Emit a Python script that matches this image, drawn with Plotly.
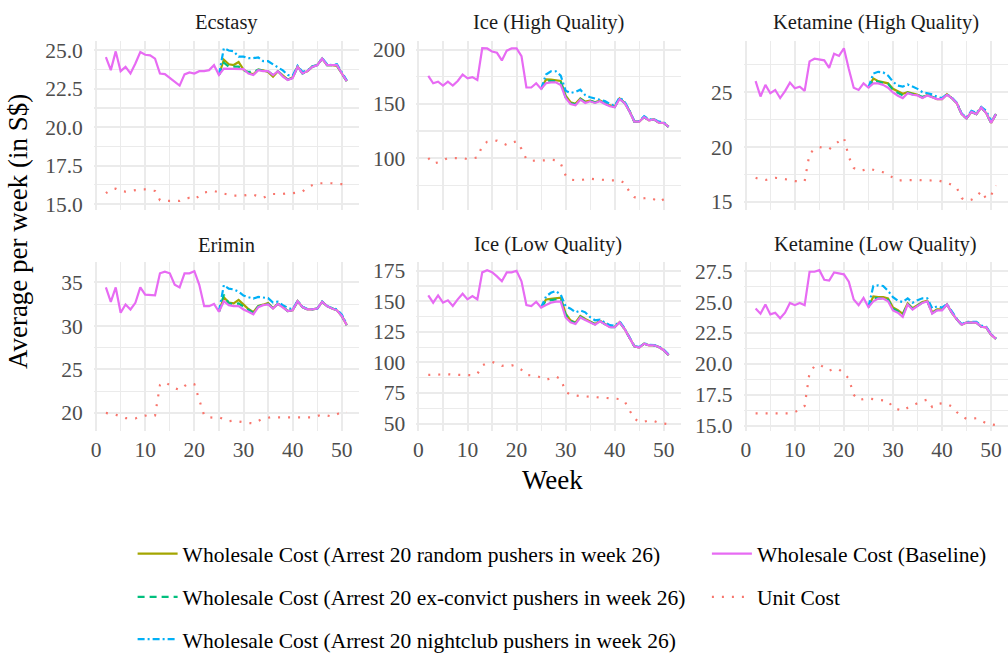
import plotly.graph_objects as go

FONT = "Liberation Serif, Times New Roman, serif"

weeks = list(range(2, 52))
scenario_weeks = list(range(25, 52))

panel_titles = ["Ecstasy", "Ice (High Quality)", "Ketamine (High Quality)",
                "Erimin", "Ice (Low Quality)", "Ketamine (Low Quality)"]

series_names = [
    "Wholesale Cost (Arrest 20 random pushers in week 26)",
    "Wholesale Cost (Arrest 20 ex-convict pushers in week 26)",
    "Wholesale Cost (Arrest 20 nightclub pushers in week 26)",
    "Wholesale Cost (Baseline)",
    "Unit Cost",
]

ecstasy_baseline = [24.57, 23.72, 24.94, 23.65, 23.93, 23.50, 24.15, 24.90, 24.72, 24.68,
                    24.47, 23.50, 23.46, 23.20, 22.97, 22.71, 23.44, 23.57, 23.50, 23.65,
                    23.65, 23.72, 24.04, 23.40, 23.82, 23.82, 23.82, 23.82, 23.78, 23.50,
                    23.40, 23.72, 23.65, 23.65, 23.40, 23.65, 23.30, 23.08, 23.20, 23.93,
                    23.50, 23.65, 23.93, 24.04, 24.47, 24.04, 24.04, 24.04, 23.50, 23.00]
ecstasy_random = [23.40, 24.40, 24.10, 24.05, 24.25, 23.75, 23.55, 23.45, 23.75, 23.70,
                  23.60, 23.30, 23.65, 23.40, 23.10, 23.25, 23.95, 23.55, 23.65, 23.95,
                  24.05, 24.45, 24.05, 24.05, 24.00, 23.50, 23.00]
ecstasy_exconvict = [23.40, 24.20, 23.95, 23.95, 23.95, 23.70, 23.60, 23.60, 23.75, 23.70,
                     23.65, 23.40, 23.65, 23.35, 23.10, 23.20, 23.95, 23.50, 23.65, 23.95,
                     24.05, 24.47, 24.05, 24.04, 24.04, 23.50, 23.00]
ecstasy_nightclub = [23.40, 25.15, 25.00, 24.95, 24.60, 24.60, 24.50, 24.50, 24.55, 24.30,
                     24.30, 24.10, 23.95, 23.70, 23.40, 23.35, 24.00, 23.60, 23.70, 23.95,
                     24.05, 24.50, 24.10, 24.05, 24.10, 23.60, 23.05]
ecstasy_unit = [15.70, 15.95, 16.00, 15.85, 15.80, 15.85, 15.90, 15.95, 15.95, 15.90,
                15.85, 15.25, 15.20, 15.20, 15.20, 15.20, 15.35, 15.40, 15.30, 15.55,
                15.75, 15.80, 15.85, 15.75, 15.65, 15.60, 15.55, 15.55, 15.55, 15.60,
                15.60, 15.50, 15.40, 15.55, 15.65, 15.65, 15.65, 15.70, 15.70, 15.75,
                15.80, 16.10, 16.25, 16.35, 16.35, 16.35, 16.35, 16.30, 16.30, 16.30]

ice_hq_baseline = [175.8, 168.9, 170.4, 166.8, 170.4, 166.8, 171.0, 177.0, 173.4, 174.6,
                   171.9, 201.2, 201.0, 198.2, 197.0, 190.0, 199.0, 201.0, 201.0, 194.0,
                   165.0, 165.0, 168.9, 163.7, 168.9, 169.8, 169.8, 167.4, 155.3, 149.8,
                   148.6, 153.8, 150.8, 152.3, 150.8, 152.3, 149.8, 147.7, 146.8, 154.4,
                   150.8, 143.2, 133.5, 133.5, 137.8, 134.7, 135.6, 132.6, 132.3, 128.7]
ice_hq_random = [163.7, 172.5, 172.3, 172.0, 171.0, 157.5, 151.5, 150.0, 155.0, 152.0,
                 153.0, 151.5, 153.0, 150.5, 148.5, 147.5, 155.0, 151.0, 143.5, 133.5,
                 133.5, 137.8, 134.7, 135.6, 132.6, 132.3, 128.7]
ice_hq_exconvict = [163.7, 171.5, 171.0, 171.0, 170.0, 156.0, 150.5, 149.5, 154.5, 151.5,
                    152.8, 151.2, 152.8, 150.2, 148.0, 147.0, 154.6, 150.9, 143.3, 133.5,
                    133.5, 137.8, 134.7, 135.6, 132.6, 132.3, 128.7]
ice_hq_nightclub = [163.7, 177.0, 180.0, 180.0, 176.0, 162.0, 160.0, 161.0, 163.0, 158.0,
                    156.0, 155.0, 154.0, 152.5, 150.0, 148.0, 156.0, 152.0, 144.0, 134.0,
                    134.0, 138.5, 135.5, 136.0, 133.5, 133.0, 129.0]
ice_hq_unit = [100.0, 95.0, 96.0, 98.0, 100.0, 100.0, 100.0, 100.0, 99.0, 99.5,
               100.5, 111.0, 115.0, 115.5, 116.0, 114.0, 112.0, 114.0, 115.5, 108.5,
               99.0, 97.5, 97.5, 98.0, 98.0, 98.5, 98.0, 95.0, 84.0, 80.0,
               79.5, 79.5, 80.5, 81.0, 80.5, 80.0, 79.5, 79.5, 79.5, 79.5,
               77.0, 69.0, 64.0, 62.5, 63.0, 63.5, 62.0, 59.5, 62.0, 66.0]

ket_hq_baseline = [26.00, 24.60, 25.66, 24.90, 25.20, 24.46, 25.10, 25.87, 25.36, 25.50,
                   25.12, 27.80, 28.04, 27.95, 27.90, 27.20, 28.50, 28.30, 29.00, 27.10,
                   25.40, 25.20, 25.80, 25.42, 25.80, 25.80, 25.66, 25.40, 24.97, 24.67,
                   24.46, 24.90, 24.76, 24.70, 24.46, 24.70, 24.50, 24.37, 24.37, 24.76,
                   24.46, 24.00, 23.00, 22.60, 23.20, 23.00, 23.60, 23.10, 22.20, 23.00]
ket_hq_random = [25.42, 26.25, 26.00, 25.90, 25.80, 25.30, 25.05, 24.85, 25.00, 24.85,
                 24.75, 24.50, 24.75, 24.55, 24.35, 24.35, 24.80, 24.46, 24.00, 23.00,
                 22.60, 23.20, 23.00, 23.60, 23.10, 22.20, 23.00]
ket_hq_exconvict = [25.42, 26.10, 25.95, 25.85, 25.75, 25.20, 24.95, 24.70, 24.95, 24.80,
                    24.75, 24.55, 24.75, 24.55, 24.40, 24.40, 24.80, 24.46, 24.00, 23.00,
                    22.60, 23.20, 23.00, 23.60, 23.10, 22.20, 23.00]
ket_hq_nightclub = [25.42, 26.70, 26.85, 26.80, 26.50, 25.95, 25.60, 25.50, 25.70, 25.50,
                    25.30, 25.00, 24.90, 24.80, 24.58, 24.45, 24.80, 24.50, 24.05, 23.05,
                    22.70, 23.30, 23.10, 23.65, 23.30, 22.35, 23.00]
ket_hq_unit = [17.20, 17.05, 17.00, 17.10, 17.20, 17.15, 17.10, 17.00, 16.90, 16.90,
               16.90, 19.40, 19.80, 20.00, 19.90, 19.80, 20.20, 20.50, 20.85, 19.10,
               18.10, 17.85, 17.90, 18.05, 17.90, 17.80, 17.70, 17.50, 17.20, 16.95,
               16.97, 17.00, 17.00, 17.00, 16.97, 16.94, 16.95, 16.97, 16.85, 16.75,
               16.55, 16.30, 15.35, 15.10, 15.20, 15.45, 16.00, 15.30, 15.60, 16.50]

erimin_baseline = [34.43, 32.77, 34.43, 31.52, 32.47, 31.90, 32.66, 34.43, 33.60, 33.60,
                   33.53, 36.06, 36.25, 36.06, 34.74, 34.43, 36.06, 36.06, 36.30, 34.74,
                   32.28, 32.28, 32.54, 31.64, 32.85, 32.40, 32.28, 32.28, 31.90, 31.64,
                   31.34, 32.17, 32.40, 32.47, 32.00, 32.54, 32.17, 31.70, 31.80, 32.85,
                   32.17, 31.90, 31.90, 32.00, 32.77, 32.28, 32.00, 31.80, 31.15, 30.10]
erimin_random = [31.64, 33.30, 32.70, 32.60, 33.00, 32.45, 31.95, 31.60, 32.30, 32.45,
                 32.65, 32.05, 32.55, 32.20, 31.70, 31.80, 32.85, 32.17, 31.90, 31.90,
                 32.00, 32.77, 32.28, 32.00, 31.80, 31.15, 30.10]
erimin_exconvict = [31.64, 33.60, 32.60, 32.50, 32.60, 32.20, 31.80, 31.50, 32.25, 32.45,
                    32.55, 32.05, 32.55, 32.20, 31.70, 31.80, 32.85, 32.17, 31.90, 31.90,
                    32.00, 32.77, 32.28, 32.00, 31.80, 31.15, 30.10]
erimin_nightclub = [31.64, 34.70, 34.30, 34.20, 33.95, 33.50, 33.30, 33.15, 33.35, 33.30,
                    33.20, 32.70, 32.80, 32.40, 32.10, 31.90, 32.90, 32.20, 31.95, 31.95,
                    32.00, 32.80, 32.30, 32.05, 31.90, 31.30, 30.20]
erimin_unit = [20.00, 19.90, 19.80, 19.60, 19.40, 19.38, 19.36, 19.60, 19.70, 19.62,
               19.70, 23.20, 23.55, 23.20, 22.85, 22.65, 23.10, 23.40, 23.30, 21.50,
               19.70, 19.50, 19.45, 19.50, 19.30, 19.05, 19.10, 19.00, 18.90, 18.85,
               18.80, 19.10, 19.36, 19.45, 19.55, 19.50, 19.50, 19.50, 19.50, 19.50,
               19.50, 19.50, 19.50, 19.65, 19.80, 19.70, 19.60, 19.85, 20.10, 20.10]

ice_lq_baseline = [154.8, 148.9, 154.8, 148.9, 150.8, 146.2, 151.6, 156.2, 151.6, 154.3,
                   151.6, 173.7, 175.5, 173.9, 170.4, 166.4, 173.7, 173.7, 175.0, 166.4,
                   147.0, 146.2, 149.7, 144.9, 147.0, 148.9, 149.7, 149.7, 136.8, 132.8,
                   131.5, 136.8, 134.7, 132.8, 130.9, 133.6, 130.9, 128.8, 128.8, 132.8,
                   127.4, 120.7, 113.2, 112.1, 115.3, 114.0, 114.0, 112.6, 110.0, 106.0]
ice_lq_random = [144.9, 151.5, 152.0, 152.5, 153.0, 140.0, 134.5, 132.5, 138.0, 135.5,
                 133.5, 131.5, 134.0, 131.5, 129.0, 129.0, 133.0, 127.5, 120.7, 113.2,
                 112.1, 115.3, 114.0, 114.0, 112.6, 110.0, 106.0]
ice_lq_exconvict = [144.9, 150.5, 151.0, 151.5, 152.0, 139.0, 134.0, 132.0, 137.5, 135.0,
                    133.2, 131.2, 133.8, 131.2, 128.9, 128.9, 132.8, 127.4, 120.7, 113.2,
                    112.1, 115.3, 114.0, 114.0, 112.6, 110.0, 106.0]
ice_lq_nightclub = [144.9, 154.0, 157.0, 158.5, 155.5, 146.0, 144.0, 141.0, 142.5, 141.0,
                    137.0, 134.5, 135.0, 133.0, 130.5, 130.0, 133.5, 128.0, 121.0, 113.5,
                    112.5, 115.5, 114.5, 114.2, 113.0, 110.5, 106.5]
ice_lq_unit = [89.8, 90.0, 90.2, 90.3, 90.3, 90.0, 89.8, 89.5, 89.2, 89.5,
               90.5, 97.5, 99.5, 100.5, 99.0, 97.2, 97.5, 97.8, 96.5, 94.0,
               89.8, 89.5, 89.0, 87.5, 85.8, 87.0, 88.4, 86.5, 76.0, 73.5,
               72.7, 72.5, 72.2, 72.0, 71.7, 71.3, 71.0, 70.7, 70.4, 70.0,
               68.5, 61.0, 54.0, 51.5, 51.5, 52.5, 52.0, 50.5, 50.0, 49.5]

ket_lq_baseline = [24.48, 24.06, 24.80, 24.00, 24.14, 23.69, 24.14, 24.93, 24.75, 24.93,
                   24.75, 27.45, 27.45, 27.58, 26.80, 26.73, 27.40, 27.30, 27.24, 26.65,
                   25.20, 24.75, 25.33, 24.59, 25.06, 25.28, 25.28, 25.06, 24.32, 24.14,
                   23.79, 24.80, 24.40, 24.67, 24.93, 25.06, 24.06, 24.32, 24.32, 24.80,
                   24.14, 23.60, 23.16, 23.34, 23.34, 23.34, 23.00, 22.95, 22.36, 22.02]
ket_lq_random = [24.59, 25.45, 25.40, 25.40, 25.30, 24.55, 24.35, 24.05, 24.90, 24.50,
                 24.75, 25.00, 25.10, 24.15, 24.40, 24.40, 24.80, 24.14, 23.60, 23.16,
                 23.34, 23.34, 23.34, 23.00, 22.95, 22.36, 22.02]
ket_lq_exconvict = [24.59, 25.35, 25.30, 25.30, 25.20, 24.45, 24.25, 23.95, 24.85, 24.45,
                    24.70, 24.95, 25.08, 24.10, 24.35, 24.35, 24.80, 24.14, 23.60, 23.16,
                    23.34, 23.34, 23.34, 23.00, 22.95, 22.36, 22.02]
ket_lq_nightclub = [24.59, 26.30, 26.35, 26.30, 25.90, 25.40, 25.10, 25.00, 25.30, 24.95,
                    25.15, 25.30, 25.30, 24.50, 24.65, 24.55, 24.85, 24.20, 23.65, 23.20,
                    23.40, 23.40, 23.40, 23.10, 23.00, 22.40, 22.05]
ket_lq_unit = [16.00, 16.00, 16.00, 16.00, 16.00, 16.00, 16.00, 16.00, 16.10, 16.30,
               16.60, 19.30, 19.80, 19.95, 19.70, 19.45, 19.60, 19.55, 19.25, 18.80,
               17.50, 17.07, 17.15, 17.20, 17.15, 17.10, 17.07, 17.00, 16.45, 16.30,
               16.20, 16.45, 16.65, 16.80, 17.00, 17.10, 16.50, 16.75, 16.80, 16.75,
               16.55, 16.10, 15.75, 15.55, 15.55, 15.60, 15.40, 15.20, 15.10, 15.05]

panel_data = [
    (ecstasy_random, ecstasy_exconvict, ecstasy_nightclub, ecstasy_baseline, ecstasy_unit),
    (ice_hq_random, ice_hq_exconvict, ice_hq_nightclub, ice_hq_baseline, ice_hq_unit),
    (ket_hq_random, ket_hq_exconvict, ket_hq_nightclub, ket_hq_baseline, ket_hq_unit),
    (erimin_random, erimin_exconvict, erimin_nightclub, erimin_baseline, erimin_unit),
    (ice_lq_random, ice_lq_exconvict, ice_lq_nightclub, ice_lq_baseline, ice_lq_unit),
    (ket_lq_random, ket_lq_exconvict, ket_lq_nightclub, ket_lq_baseline, ket_lq_unit),
]

y_ranges = [[14.64, 25.64], [52.6, 208.2], [14.31, 29.69], [17.9, 37.4], [43.7, 182.5], [14.55, 28.27]]
y_dticks = [2.5, 50, 5, 5, 25, 2.5]
y_formats = [".1f", "d", "d", "d", "d", ".1f"]

colors = ["#A3A500", "#00BF7D", "#00B0F6", "#E76BF3", "#F8766D"]
dashes = ["solid", "7px,5px", "7px,3px,2px,3px", "solid", "2px,8px"]

# one legend box per legend entry: (legend id, left x px, box centre y px)
legend_ids = ["legend", "legend3", "legend5", "legend2", "legend4"]
legend_x_px = [130, 130, 130, 706, 706]
legend_y_px = [560, 604, 647, 560, 604]

x_domains = [[0.0904, 0.3540], [0.4112, 0.6743], [0.7369, 1.0]]
y_domains = [[0.6818, 0.9420], [0.3402, 0.6015]]

GRID = "#EBEBEB"

fig = go.Figure()

for p, data in enumerate(panel_data):
    ax = "" if p == 0 else str(p + 1)
    for s in range(5):
        xs = scenario_weeks if s < 3 else weeks
        fig.add_trace(go.Scatter(
            x=xs, y=data[s], mode="lines",
            name=series_names[s],
            line=dict(color=colors[s], width=2.2, dash=dashes[s]),
            legendgroup="g%d" % s,
            legend=legend_ids[s],
            showlegend=(p == 0),
            xaxis="x" + ax, yaxis="y" + ax,
            hoverinfo="skip",
        ))

layout = dict(
    width=1008, height=660,
    margin=dict(l=0, r=0, t=0, b=0),
    paper_bgcolor="white", plot_bgcolor="white",
    font=dict(family=FONT, color="black"),
    showlegend=True,
)

for p in range(6):
    row, col = divmod(p, 3)
    key = "" if p == 0 else str(p + 1)
    layout["xaxis" + key] = dict(
        domain=x_domains[col], anchor="y" + key, range=[-0.45, 53.45],
        tickmode="linear", tick0=0, dtick=10,
        showgrid=True, gridcolor=GRID, gridwidth=2,
        minor=dict(tick0=0, dtick=5, showgrid=True, gridcolor=GRID, gridwidth=1.2),
        zeroline=False, showline=False, ticks="",
        showticklabels=(row == 1), ticklabelstandoff=3,
        tickfont=dict(size=21.5, color="#4D4D4D", family=FONT),
        matches=None if p == 0 else "x",
    )
    d = y_dticks[p]
    layout["yaxis" + key] = dict(
        domain=y_domains[row], anchor="x" + key, range=y_ranges[p],
        tickmode="linear", tick0=0, dtick=d, tickformat=y_formats[p],
        showgrid=True, gridcolor=GRID, gridwidth=2,
        minor=dict(tick0=0, dtick=d / 2, showgrid=True, gridcolor=GRID, gridwidth=1.2),
        zeroline=False, showline=False, ticks="",
        ticklabelstandoff=10,
        tickfont=dict(size=21.5, color="#4D4D4D", family=FONT),
    )

annotations = []
strip_y = [1 - 20 / 660, 1 - 246 / 660]
for p, title in enumerate(panel_titles):
    row, col = divmod(p, 3)
    xc = (x_domains[col][0] + x_domains[col][1]) / 2
    annotations.append(dict(text=title, x=xc, y=strip_y[row], xref="paper", yref="paper",
                            xanchor="center", yanchor="middle", showarrow=False,
                            font=dict(size=20.5, color="#1A1A1A", family=FONT)))
annotations.append(dict(text="Week", x=551 / 1008, y=1 - 485 / 660, xref="paper", yref="paper",
                        xanchor="center", yanchor="middle", showarrow=False,
                        font=dict(size=27, color="black", family=FONT)))
annotations.append(dict(text="Average per week (in S$)", x=15 / 1008, y=1 - 232 / 660,
                        xref="paper", yref="paper", textangle=-90,
                        xanchor="center", yanchor="middle", showarrow=False,
                        font=dict(size=27, color="black", family=FONT)))
layout["annotations"] = annotations

for lid, lx, ly in zip(legend_ids, legend_x_px, legend_y_px):
    layout[lid] = dict(orientation="v", itemwidth=40,
                       font=dict(size=21.5, color="black", family=FONT),
                       bgcolor="rgba(0,0,0,0)", borderwidth=0,
                       xanchor="left", yanchor="middle",
                       x=lx / 1008, y=1 - ly / 660)

fig.update_layout(**layout)
fig.write_html("out.html",
               config={"displayModeBar": False, "staticPlot": True},
               post_script="document.body.style.margin='0';document.body.style.overflow='hidden';")
